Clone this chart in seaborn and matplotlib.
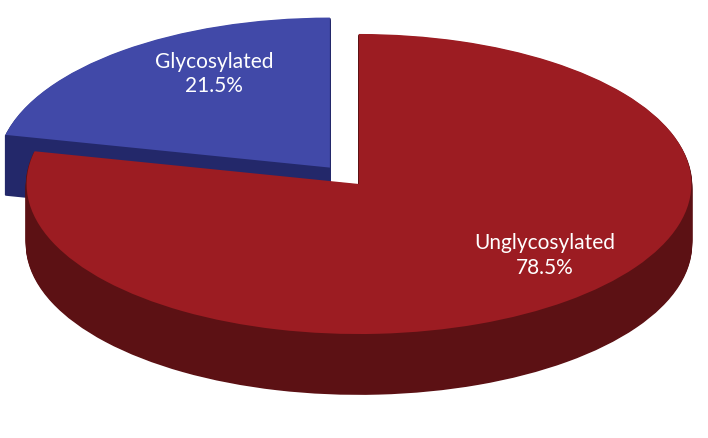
import matplotlib
matplotlib.use("Agg")
import matplotlib.pyplot as plt
import seaborn as sns
import numpy as np

categories = ["Glycosylated", "Unglycosylated"]
values = [21.5, 78.5]
top_colors = ["#4149a8", "#9c1c22"]
side_colors = ["#23286a", "#5c1114"]

sns.set_theme(style="white")
plt.rcParams['font.family'] = ['Lato', 'DejaVu Sans']

fig = plt.figure(figsize=(7.08, 4.39), dpi=100)
ax = fig.add_axes([0, 0, 1, 1])
explode = [0.14, 0]
depth = 0.4
for d in np.linspace(depth, 0.01, 60):
    ws, _ = ax.pie(values, colors=side_colors, startangle=90, counterclock=True,
                   explode=explode, center=(0, -d), radius=1, frame=False,
                   wedgeprops=dict(linewidth=0))
    for w, c in zip(ws, side_colors):
        w.set_edgecolor(c)
        w.set_linewidth(1.2)
wedges, _ = ax.pie(values, colors=top_colors, startangle=90, counterclock=True,
                   explode=explode, center=(0, 0), radius=1, frame=False,
                   wedgeprops=dict(linewidth=0))
ax.set_aspect('auto')
ax.set_xlim(-1.08, 1.05)
ax.set_ylim(-1.693, 1.233)
ax.axis('off')

ax.text(-0.435, 0.74, f"{categories[0]}\n{values[0]}%", color="white", fontsize=15,
        ha="center", va="center", linespacing=1.3)
ax.text(0.56, -0.47, f"{categories[1]}\n{values[1]}%", color="white", fontsize=15,
        ha="center", va="center", linespacing=1.3)
fig.savefig("out.png", dpi=100, facecolor="white")
